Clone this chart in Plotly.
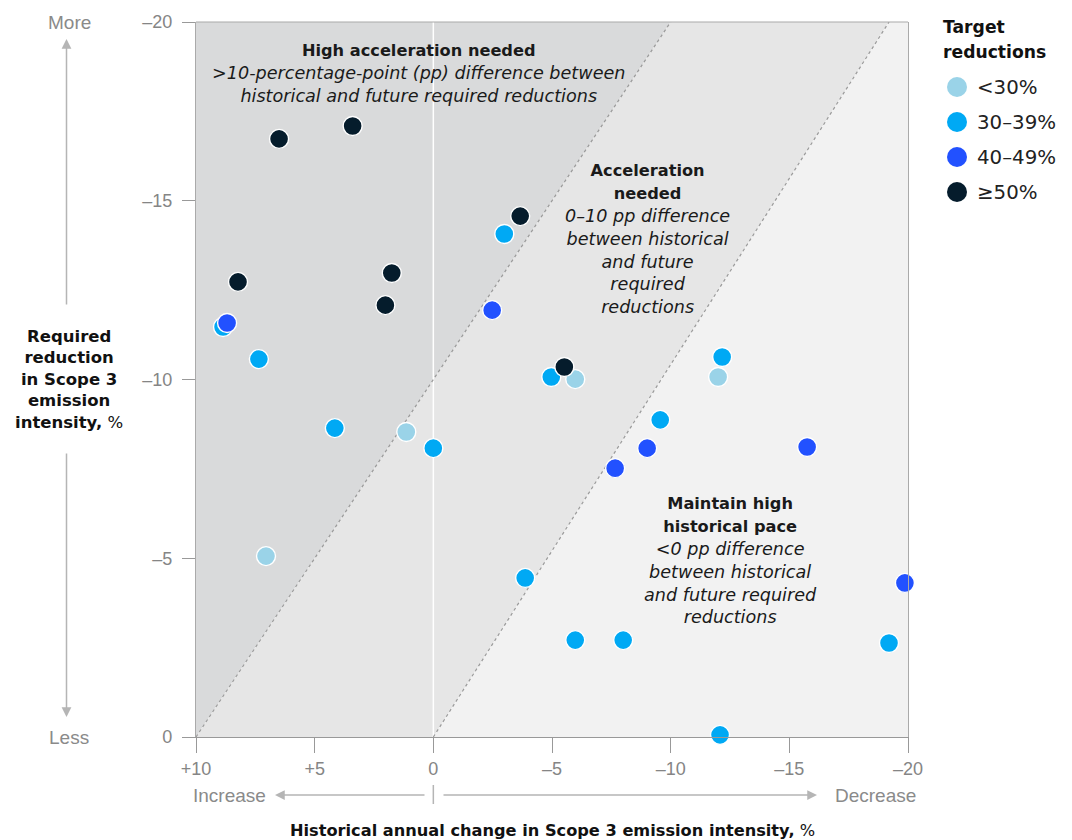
import plotly.graph_objects as go

# ---- Data ----
# x: historical annual change in Scope 3 emission intensity (%), positive = increase
# y: required reduction in Scope 3 emission intensity (%), negative values
groups = ["<30%", "30–39%", "40–49%", "≥50%"]
colors = ["#9ad3e8", "#00a9f4", "#2251ff", "#051c2c"]

x_lt30 = [7.05, 1.14, -5.98, -12.0]
y_lt30 = [-5.06, -8.53, -10.01, -10.07]

x_30_39 = [-2.99, 8.86, 7.35, -4.97, -12.17, 4.15, 0.0, -9.56, -3.87, -5.98, -8.0, -19.2, -12.08]
y_30_39 = [-14.07, -11.47, -10.57, -10.07, -10.63, -8.64, -8.08, -8.87, -4.45, -2.71, -2.71, -2.63, -0.06]

x_40_49 = [8.69, -2.48, -7.66, -9.01, -15.75, -19.87]
y_40_49 = [-11.58, -11.94, -7.52, -8.08, -8.11, -4.31]

x_ge50 = [6.5, 3.4, -3.66, 8.23, 1.75, 2.02, -5.52]
y_ge50 = [-16.73, -17.09, -14.57, -12.73, -12.98, -12.08, -10.35]

xs = [x_lt30, x_30_39, x_40_49, x_ge50]
ys = [y_lt30, y_30_39, y_40_49, y_ge50]

x_ticks = [10, 5, 0, -5, -10, -15, -20]
x_ticktext = ["+10", "+5", "0", "–5", "–10", "–15", "–20"]
y_ticks = [0, -5, -10, -15, -20]
y_ticktext = ["0", "–5", "–10", "–15", "–20"]

# Zone boundaries: x value at y=0 and at y=-20
boundary1 = [10, -10]
boundary2 = [0, -19.2]
x_range = [10, -20]
y_range = [0, -20]

# ---- layout constants (page pixels; page has an 8px body margin) ----
PLOT_L, PLOT_R, PLOT_T, PLOT_B = 196, 908, 22, 737
PW, PH = PLOT_R - PLOT_L, PLOT_B - PLOT_T


def px(x):
    return (x - PLOT_L) / PW


def py(y):
    return (PLOT_B - y) / PH


SANS = "Liberation Sans"
WIDE = "DejaVu Sans"
GRAY_TXT = "#8a8a8a"
TICK_TXT = "#858585"
ARROW = "#b5b5b5"
DARK = "#1a1a1a"

fig = go.Figure()

for name, c, xv, yv in zip(groups, colors, xs, ys):
    fig.add_trace(go.Scatter(
        x=xv, y=yv, mode="markers", name=name,
        marker=dict(size=19, color=c, line=dict(color="white", width=1.4)),
        cliponaxis=False, hoverinfo="x+y+name", showlegend=False,
    ))


# ---- zone shading ----
def path(pts):
    return "M " + " L ".join(f"{a},{b}" for a, b in pts) + " Z"


shapes = [
    dict(type="path", layer="below", line=dict(width=0), fillcolor="#d9dadb",
         path=path([(boundary1[0], y_range[0]), (x_range[0], y_range[1]), (boundary1[1], y_range[1]), (x_range[0], y_range[0])])),
    dict(type="path", layer="below", line=dict(width=0), fillcolor="#e6e6e6",
         path=path([(boundary1[0], y_range[0]), (boundary1[1], y_range[1]), (boundary2[1], y_range[1]), (boundary2[0], y_range[0])])),
    dict(type="path", layer="below", line=dict(width=0), fillcolor="#f2f2f2",
         path=path([(boundary2[0], y_range[0]), (boundary2[1], y_range[1]), (x_range[1], y_range[1]), (x_range[1], y_range[0])])),
    dict(type="line", layer="below", x0=0, x1=0, y0=y_range[0], y1=y_range[1],
         line=dict(color="white", width=1.5)),
    dict(type="line", layer="below", x0=boundary1[0], y0=y_range[0], x1=boundary1[1], y1=y_range[1],
         line=dict(color="#9a9a9a", width=1.2, dash="dot")),
    dict(type="line", layer="below", x0=boundary2[0], y0=y_range[0], x1=boundary2[1], y1=y_range[1],
         line=dict(color="#9a9a9a", width=1.2, dash="dot")),
    # top frame
    dict(type="line", xref="paper", yref="paper", x0=0, x1=1, y0=1, y1=1, line=dict(color="#aaa", width=1.2)),
    # small tick separating Increase/Decrease arrows
    dict(type="line", xref="x", yref="paper", x0=0, x1=0, y0=py(785), y1=py(804),
         line=dict(color=ARROW, width=1.5)),
]


def region_text(bold_lines, italic_lines):
    b = "<br>".join(f"<b><span style='font-size:16.2px'>{t}</span></b>" for t in bold_lines)
    i = "<br>".join(f"<i>{t}</i>" for t in italic_lines)
    return b + "<br>" + i


annotations = [
    dict(xref="paper", yref="paper", x=px(418), y=py(39), xanchor="center", yanchor="top",
         showarrow=False, align="center",
         text=region_text(["High acceleration needed"],
                          ["&gt;10-percentage-point (pp) difference between",
                           "historical and future required reductions"]),
         font=dict(family=WIDE, size=17.6, color=DARK)),
    dict(xref="paper", yref="paper", x=px(647), y=py(159), xanchor="center", yanchor="top",
         showarrow=False, align="center",
         text=region_text(["Acceleration", "needed"],
                          ["0–10 pp difference", "between historical", "and future", "required", "reductions"]),
         font=dict(family=WIDE, size=17.6, color=DARK)),
    dict(xref="paper", yref="paper", x=px(730), y=py(492), xanchor="center", yanchor="top",
         showarrow=False, align="center",
         text=region_text(["Maintain high", "historical pace"],
                          ["&lt;0 pp difference", "between historical", "and future required", "reductions"]),
         font=dict(family=WIDE, size=17.6, color=DARK)),
    # y axis title
    dict(xref="paper", yref="paper", x=px(69), y=py(379), xanchor="center", yanchor="middle",
         showarrow=False, align="center",
         text="<b>Required<br>reduction<br>in Scope 3<br>emission<br>intensity,</b> %",
         font=dict(family=WIDE, size=16.5, color="#111")),
    dict(xref="paper", yref="paper", x=px(69), y=py(22), xanchor="center", yanchor="middle",
         showarrow=False, text="More", font=dict(family=SANS, size=19, color=GRAY_TXT)),
    dict(xref="paper", yref="paper", x=px(69), y=py(737), xanchor="center", yanchor="middle",
         showarrow=False, text="Less", font=dict(family=SANS, size=19, color=GRAY_TXT)),
    # vertical arrows
    dict(xref="paper", yref="paper", x=px(66.5), y=py(39), ax=0, ay=267, text="",
         showarrow=True, arrowhead=2, arrowsize=1.3, arrowwidth=1.5, arrowcolor=ARROW),
    dict(xref="paper", yref="paper", x=px(66.5), y=py(717), ax=0, ay=-265, text="",
         showarrow=True, arrowhead=2, arrowsize=1.3, arrowwidth=1.5, arrowcolor=ARROW),
    # horizontal arrows
    dict(xref="paper", yref="paper", x=px(275), y=py(795), ax=151, ay=0, text="",
         showarrow=True, arrowhead=2, arrowsize=1.3, arrowwidth=1.5, arrowcolor=ARROW),
    dict(xref="paper", yref="paper", x=px(817), y=py(795), ax=-375, ay=0, text="",
         showarrow=True, arrowhead=2, arrowsize=1.3, arrowwidth=1.5, arrowcolor=ARROW),
    dict(xref="paper", yref="paper", x=px(229), y=py(795), xanchor="center", yanchor="middle",
         showarrow=False, text="Increase", font=dict(family=SANS, size=19, color=GRAY_TXT)),
    dict(xref="paper", yref="paper", x=px(875), y=py(795), xanchor="center", yanchor="middle",
         showarrow=False, text="Decrease", font=dict(family=SANS, size=19, color=GRAY_TXT)),
    dict(xref="paper", yref="paper", x=0.5, y=py(830), xanchor="center", yanchor="middle",
         showarrow=False, text="<b>Historical annual change in Scope 3 emission intensity,</b> %",
         font=dict(family=WIDE, size=16.2, color="#111")),
    # legend title (two lines)
    dict(xref="paper", yref="paper", x=px(941), y=py(27), xanchor="left", yanchor="middle",
         showarrow=False, align="left", text="<b>Target</b>",
         font=dict(family=WIDE, size=17.2, color="#111")),
    dict(xref="paper", yref="paper", x=px(941), y=py(52), xanchor="left", yanchor="middle",
         showarrow=False, align="left", text="<b>reductions</b>",
         font=dict(family=WIDE, size=17.2, color="#111")),
]

# ---- custom legend (circle + label per group) ----
legend_rows_y = [87, 122, 157, 192]
for name, c, ry in zip(groups, colors, legend_rows_y):
    shapes.append(dict(type="circle", xref="paper", yref="paper",
                       xsizemode="pixel", ysizemode="pixel",
                       xanchor=px(957), yanchor=py(ry), x0=-10, x1=10, y0=-10, y1=10,
                       fillcolor=c, line=dict(width=0)))
    annotations.append(dict(xref="paper", yref="paper", x=px(975), y=py(ry), xanchor="left", yanchor="middle",
                            showarrow=False, text=name, font=dict(family=WIDE, size=19.8, color="#222")))

fig.update_layout(
    width=1064, height=832,
    margin=dict(l=PLOT_L - 8, r=1072 - PLOT_R, t=PLOT_T - 8, b=840 - PLOT_B, autoexpand=False),
    paper_bgcolor="white", plot_bgcolor="white",
    font=dict(family=SANS, size=17, color="#222"),
    shapes=shapes, annotations=annotations,
    showlegend=False,
    xaxis=dict(range=x_range, tickvals=x_ticks, ticktext=x_ticktext, showgrid=False, zeroline=False,
               automargin=False,
               showline=True, linecolor="#999", linewidth=1.2, mirror=False,
               ticks="outside", ticklen=15, tickcolor="#999", tickwidth=1.2,
               tickfont=dict(family=SANS, size=18, color=TICK_TXT)),
    yaxis=dict(range=y_range, tickvals=y_ticks, ticktext=y_ticktext, showgrid=False, zeroline=False,
               automargin=False,
               showline=True, linecolor="#aaa", linewidth=1.2, mirror=True,
               ticks="outside", ticklen=13, tickcolor="#999", tickwidth=1.2, ticklabelstandoff=6,
               tickfont=dict(family=SANS, size=18, color=TICK_TXT)),
)

fig.write_html("out.html")
